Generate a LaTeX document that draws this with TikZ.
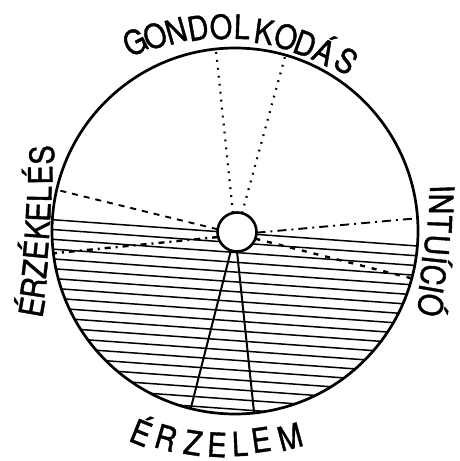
\documentclass[tikz,border=0pt]{standalone}
\usepackage{fontspec}
\setmainfont{TeX Gyre Heros}
\newfontfamily\labfont[FakeStretch=0.86,FakeBold=1.2]{TeX Gyre Heros}
\begin{document}
\begin{tikzpicture}[x=1pt,y=1pt,
  lett/.style={inner sep=0pt, outer sep=0pt, text height=24pt, text depth=0pt, font=\labfont\fontsize{33.5}{35}\selectfont},
  hatchline/.style={line width=1.5pt},
  dotline/.style={line width=2.2pt, dash pattern=on 1.8pt off 6.2pt},
  dashline/.style={line width=1.9pt, dash pattern=on 6pt off 6pt},
  dashdotline/.style={line width=1.9pt, dash pattern=on 9pt off 5pt on 2pt off 5pt},
  heavydash/.style={line width=2.4pt, dash pattern=on 5pt off 7pt},
  heavydashdot/.style={line width=2.4pt, dash pattern=on 6pt off 5pt on 2pt off 5pt},
  solidline/.style={line width=2pt}]
\useasboundingbox (0,0) rectangle (460,461);
% hatching of the lower half
\begin{scope}
  \clip (235,230) circle (183pt);
  \foreach \k in {0,...,19} {
    \draw[hatchline] (40,{242.2-9.8*\k}) -- (430,{214.1-9.8*\k});
  }
\end{scope}
% circles
\node[circle, draw, line width=2.7pt, minimum size=366pt, inner sep=0pt, outer sep=0pt] (rim) at (235,230) {};
\node[circle, draw, fill=white, line width=2.6pt, minimum size=39pt, inner sep=0pt, outer sep=0pt] (hub) at (237,229) {};
% radial connectors
\draw[dotline] (hub.102) -- (rim.96);
\draw[dotline] (hub.75) -- (rim.74);
\draw[dashline] (hub.172) -- (rim.167);
\draw[dashdotline] (hub.-2) -- (rim.4);
\draw[heavydashdot] (hub.195) -- (rim.187);
\draw[heavydash] (hub.-20) -- (rim.-15);
\draw[solidline] (hub.-108) -- (rim.-104);
\draw[solidline] (hub.-90) -- (rim.-84);
% labels
\foreach \ch/\xx/\yy/\rr [count=\i] in {G/135/419/27, O/155/425/22, N/176/430/16, D/198/433/10, O/221/434/4, L/242/434/-2, K/264/429/-8, O/286/424/-14, D/305/417/-20, Á/324/409/-26, S/346/400/-32}
  \node[lett, rotate=\rr] (top\i) at (\xx,\yy) {\ch};
\foreach \ch/\xx/\yy/\rr [count=\i] in {É/32/154/80, R/33.5/173/81.5, Z/35/192/83, É/36/211/84.5, K/37.5/231/86, E/38.5/249/87.5, L/39.5/267/89, É/40.5/286/90.5, S/42/306/92}
  \node[lett, rotate=\rr] (left\i) at (\xx,\yy) {\ch};
\foreach \ch/\xx/\yy/\rr [count=\i] in {I/442/272/-88, N/441/257/-90, T/439.5/237/-92, U/437/216/-94, Í/434/201/-96, C/433/186/-98, I/431/172/-100, Ó/430.5/156/-102}
  \node[lett, rotate=\rr] (right\i) at (\xx,\yy) {\ch};
\foreach \ch/\xx/\yy/\rr [count=\i] in {É/141/28/-22, R/166/23/-16, Z/193/18/-9, E/217/16/-3, L/240/17/2.5, E/261/21/8, M/290/24/15}
  \node[lett, rotate=\rr] (bot\i) at (\xx,\yy) {\ch};
\end{tikzpicture}
\end{document}
